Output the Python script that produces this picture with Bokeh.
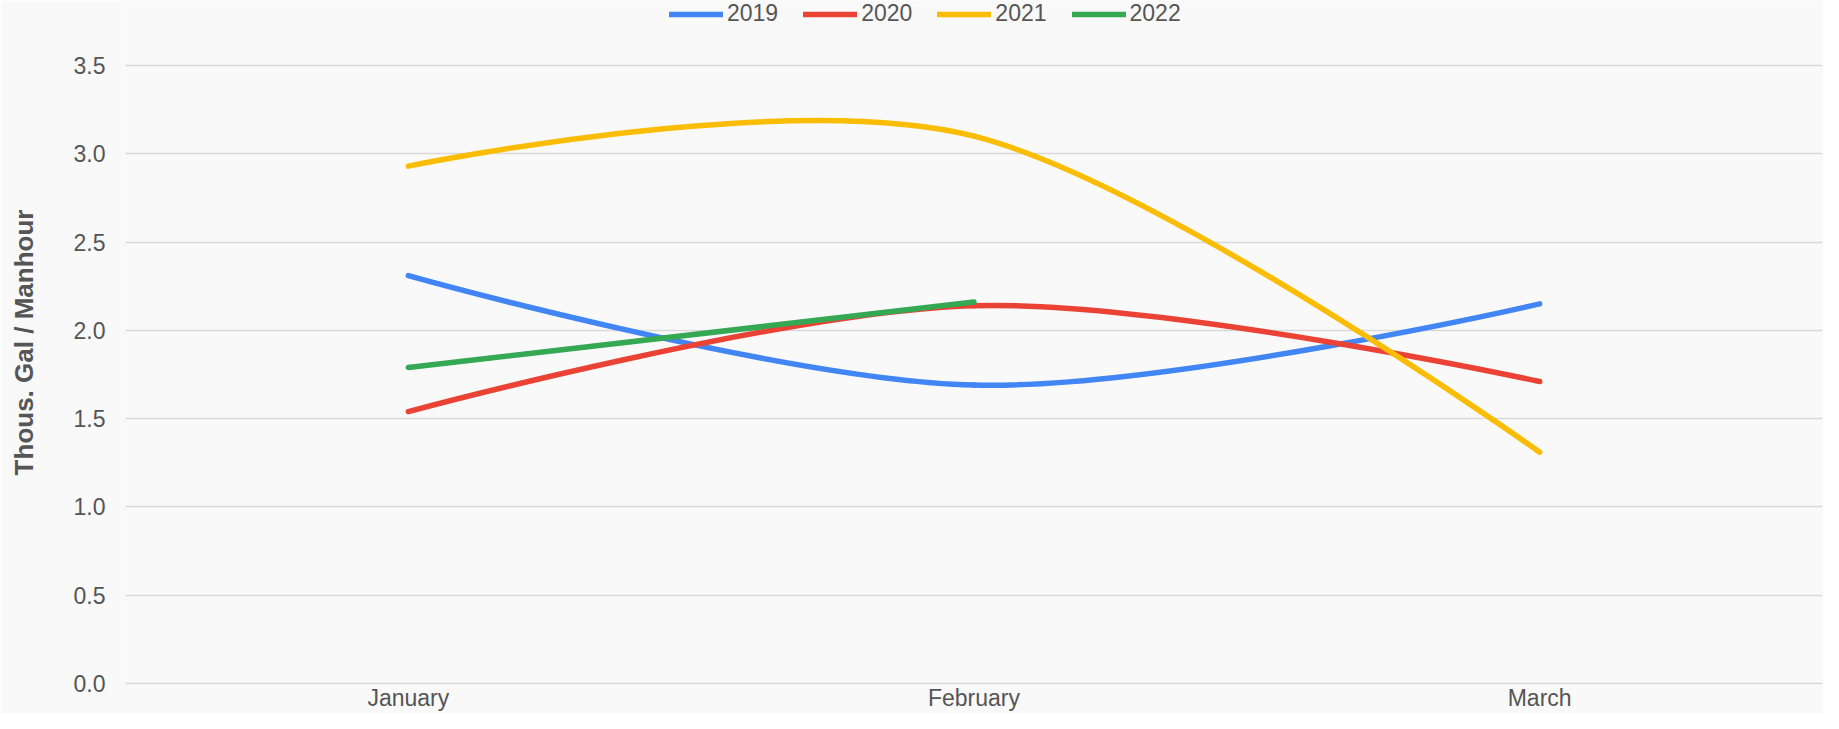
import numpy as np
from bokeh.plotting import figure
from bokeh.models import (ColumnDataSource, Range1d, FixedTicker, Legend, LegendItem,
                          NumeralTickFormatter)
from bokeh.embed import file_html
from bokeh.resources import INLINE

months = ["January", "February", "March"]
years = ["2019", "2020", "2021", "2022"]
v2019 = [2.31, 1.69, 2.15]
v2020 = [1.54, 2.14, 1.71]
v2021 = [2.93, 3.10, 1.31]
v2022 = [1.79, 2.16]
colors = ["#4285F4", "#EA4335", "#FBBC04", "#34A853"]
y_ticks = [0.0, 0.5, 1.0, 1.5, 2.0, 2.5, 3.0, 3.5]
y_title = "Thous. Gal / Manhour"

FONT = "Liberation Sans"
TXT = "#555555"
BG = "#f9f9f9"
W, H = 1823, 713

# layout (pixels): frame spans canvas top to just above the x labels
X_AXIS_H = 29
FRAME_BOTTOM = H - X_AXIS_H
ZERO_PX, TOP_TICK_PX = 683, 65
ppu = (ZERO_PX - TOP_TICK_PX) / y_ticks[-1]
y_start = -(FRAME_BOTTOM - ZERO_PX) / ppu
y_end = y_ticks[-1] + TOP_TICK_PX / ppu

p = figure(width=W, height=H, output_backend="svg", toolbar_location=None,
           x_range=Range1d(-0.5, 2.5), y_range=Range1d(y_start, y_end),
           min_border_left=125, min_border_right=1, min_border_top=0, min_border_bottom=10)
p.background_fill_color = BG
p.border_fill_color = BG
p.outline_line_color = None


def smooth_segments(vals):
    """Smooth cubic Bezier segments through the data points (curved-line style)."""
    y = np.asarray(vals, dtype=float)
    n = len(y)
    x = np.arange(n, dtype=float)
    m = np.zeros(n)  # tangents; ends keep their control point on the end point
    for i in range(1, n - 1):
        m[i] = (y[i + 1] - y[i - 1]) / 2.0
    h0 = np.full(n - 1, 1 / 3)
    h1 = np.full(n - 1, 1 / 3)
    h0[0] = 0.0
    h1[-1] = 0.0
    return dict(x0=x[:-1], y0=y[:-1], x1=x[1:], y1=y[1:],
                cx0=x[:-1] + h0, cy0=y[:-1] + m[:-1] * h0,
                cx1=x[1:] - h1, cy1=y[1:] - m[1:] * h1)


items = []
for name, vals, col in zip(years, [v2019, v2020, v2021, v2022], colors):
    src = ColumnDataSource(smooth_segments(vals))
    r = p.bezier(x0="x0", y0="y0", x1="x1", y1="y1", cx0="cx0", cy0="cy0",
                 cx1="cx1", cy1="cy1", source=src, line_color=col, line_width=5.5,
                 line_cap="round")
    items.append(LegendItem(label=name, renderers=[r]))

# axes
p.xaxis.ticker = FixedTicker(ticks=list(range(len(months))))
p.xaxis.major_label_overrides = {i: m for i, m in enumerate(months)}
p.yaxis.ticker = FixedTicker(ticks=y_ticks)
p.yaxis.formatter = NumeralTickFormatter(format="0.0")
for ax in (p.xaxis, p.yaxis):
    ax.axis_line_color = None
    ax.major_tick_line_color = None
    ax.minor_tick_line_color = None
    ax.major_tick_out = 0
    ax.major_tick_in = 0
    ax.minor_tick_out = 0
    ax.major_label_text_font = FONT
    ax.major_label_text_font_size = "23px"
    ax.major_label_text_color = TXT
p.yaxis.major_label_standoff = 20
p.xaxis.major_label_standoff = 0

p.yaxis.axis_label = y_title
p.yaxis.axis_label_standoff = 32
p.yaxis.axis_label_text_font = FONT
p.yaxis.axis_label_text_font_size = "26px"
p.yaxis.axis_label_text_font_style = "bold"
p.yaxis.axis_label_text_color = TXT

p.xgrid.grid_line_color = None
p.ygrid.grid_line_color = "#d9d9d9"
p.ygrid.grid_line_width = 1.5

legend = Legend(items=items, orientation="horizontal",
                location=(669 - 125, FRAME_BOTTOM - 27),
                padding=0, margin=0, spacing=25, label_standoff=4,
                glyph_width=54, glyph_height=26, label_height=26,
                label_text_font=FONT, label_text_font_size="23px", label_text_color=TXT,
                border_line_color=None, background_fill_alpha=0)
p.add_layout(legend, "center")

open("out.html", "w").write(file_html(p, INLINE))
